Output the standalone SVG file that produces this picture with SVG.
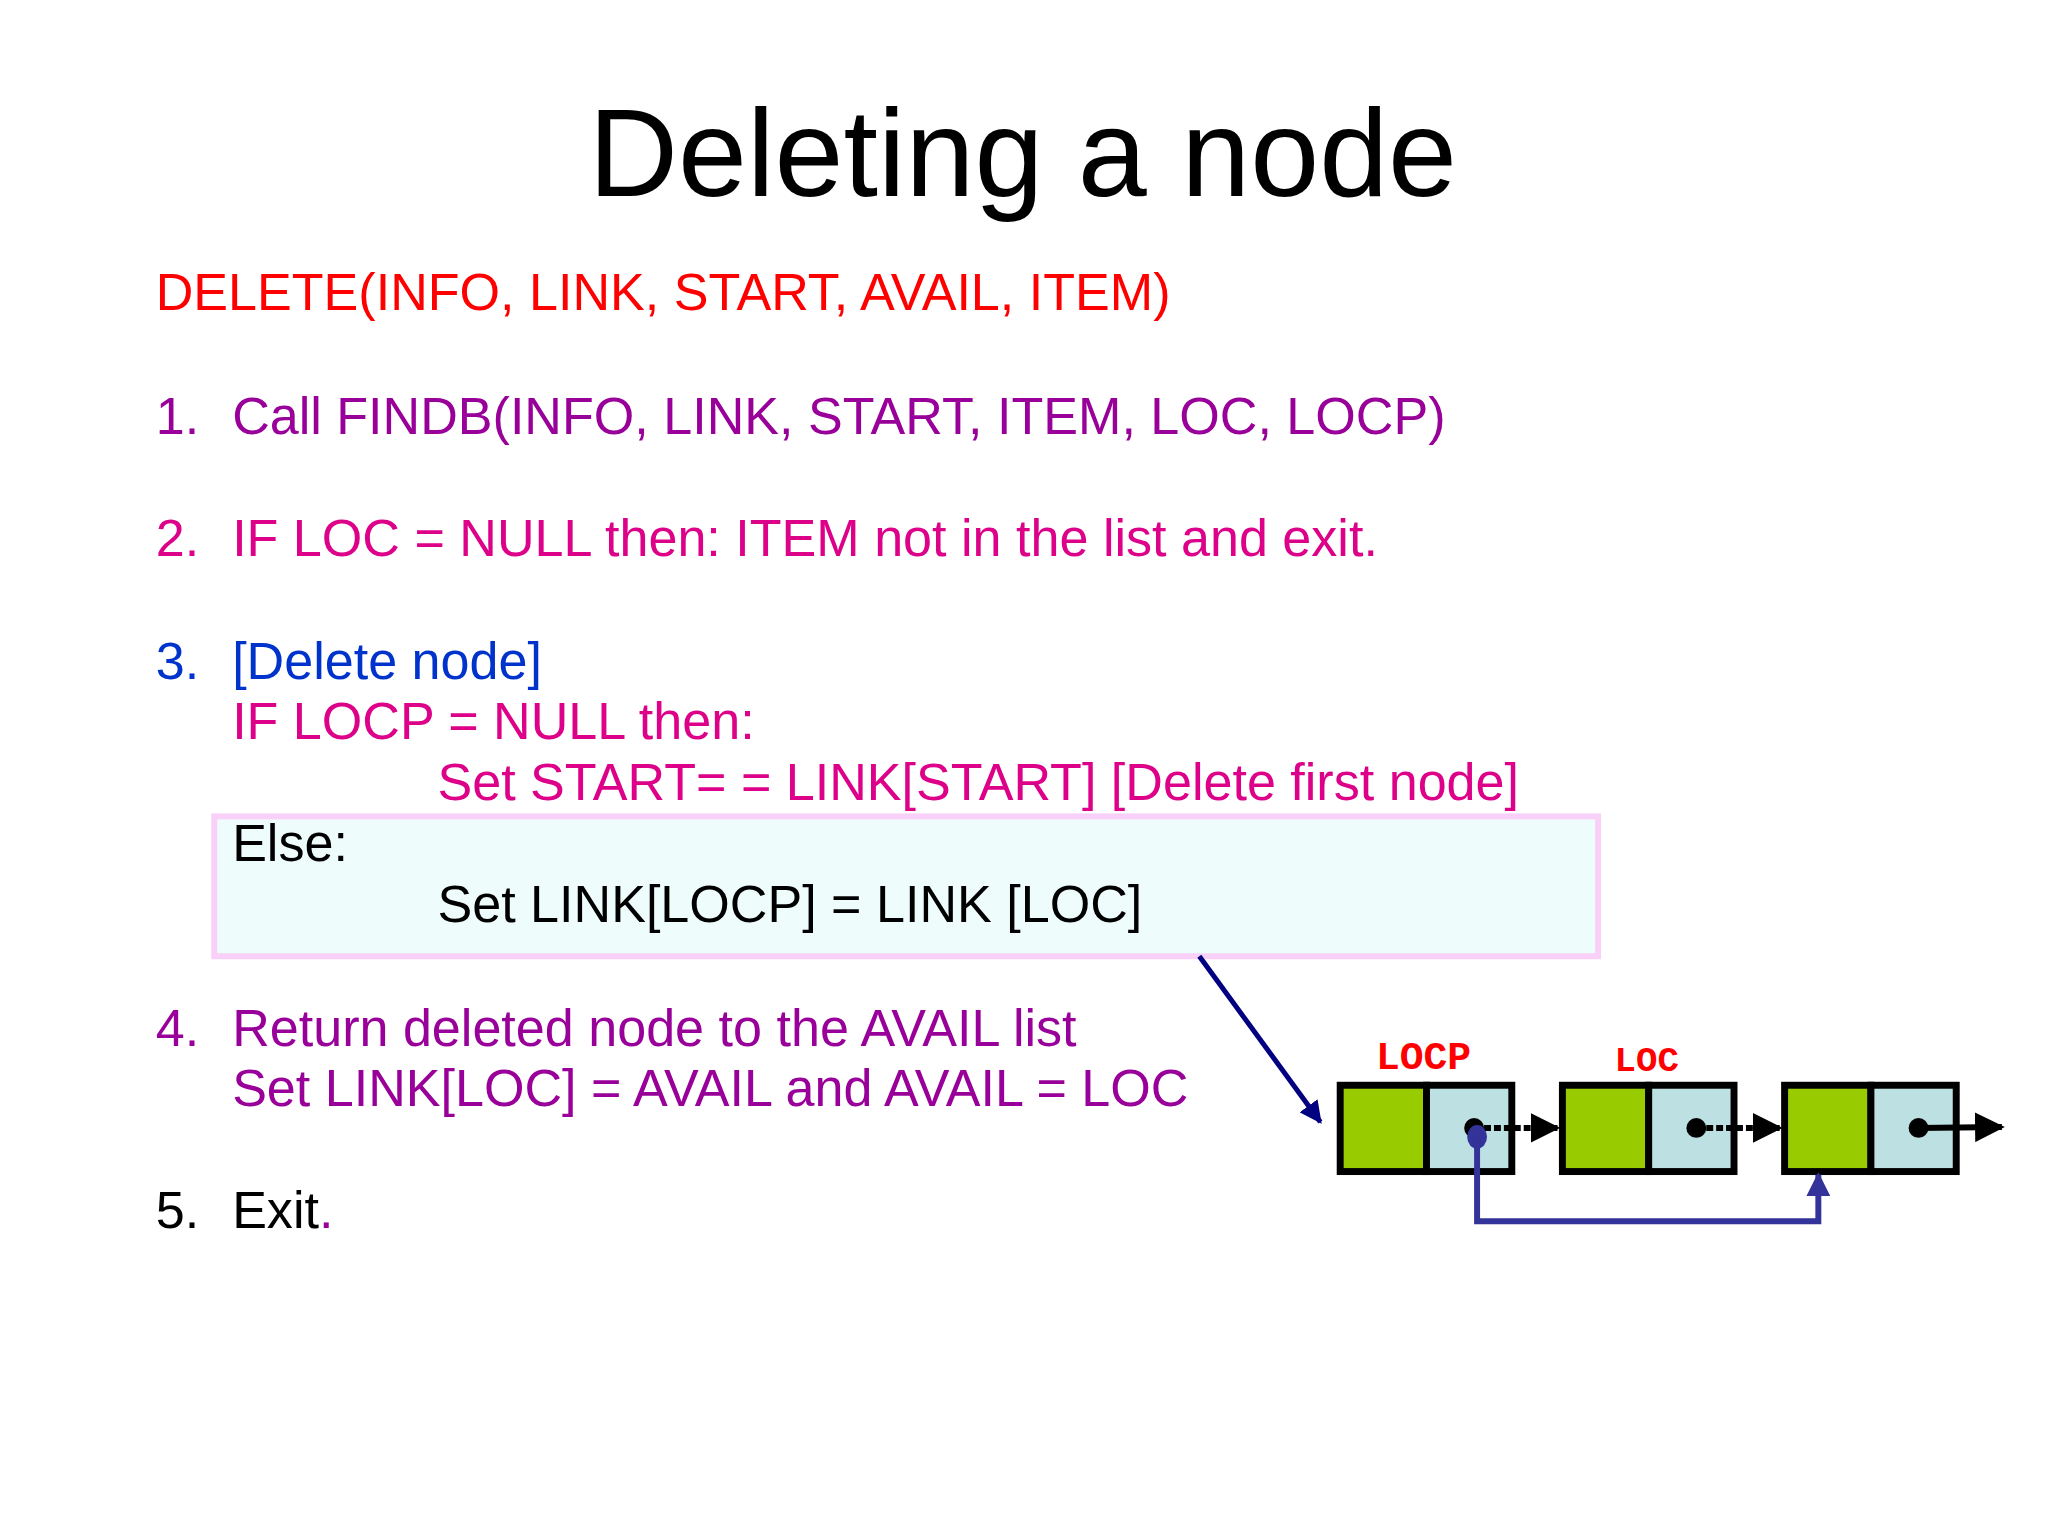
<svg xmlns="http://www.w3.org/2000/svg" width="2048" height="1536" viewBox="0 0 2048 1536">
<style>
text{font-family:"Liberation Sans",Arial,sans-serif;font-size:52.5px}
.red{fill:#ff0000}.pur{fill:#990099}.mag{fill:#dd0088}.blu{fill:#0033cc}.blk{fill:#000}
.lbl{font-family:"Liberation Mono","Courier New",monospace;font-weight:bold;fill:#ff0000}
.g{fill:#99cc00;stroke:#000;stroke-width:7}.b{fill:#bde0e3;stroke:#000;stroke-width:7}
</style>
<defs>
<marker id="ak" viewBox="0 0 10 10" refX="9" refY="5" markerWidth="5" markerHeight="5" orient="auto" markerUnits="strokeWidth"><path d="M0,0L10,5L0,10z" fill="#000"/></marker>
<marker id="an" viewBox="0 0 10 10" refX="9" refY="5" markerWidth="4.5" markerHeight="4.5" orient="auto" markerUnits="strokeWidth"><path d="M0,0L10,5L0,10z" fill="#000080"/></marker>
<marker id="ab" viewBox="0 0 10 10" refX="9" refY="5" markerWidth="4" markerHeight="4" orient="auto" markerUnits="strokeWidth"><path d="M0,0L10,5L0,10z" fill="#333399"/></marker>
</defs>
<rect width="2048" height="1536" fill="#fff"/>
<g transform="scale(0.992)">
<text x="1031" y="198" text-anchor="middle" style="font-size:125px" class="blk">Deleting a node</text>
<rect x="216" y="823" width="1395" height="141" fill="#effcfc" stroke="#f8d0f8" stroke-width="6"/>
<text x="157" y="313" class="red">DELETE(INFO, LINK, START, AVAIL, ITEM)</text>
<text x="157" y="437" class="pur">1.<tspan x="234">Call FINDB(INFO, LINK, START, ITEM, LOC, LOCP)</tspan></text>
<text x="157" y="560" class="mag">2.<tspan x="234">IF LOC = NULL then: ITEM not in the list and exit.</tspan></text>
<text x="157" y="684" class="blu">3.<tspan x="234">[Delete node]</tspan></text>
<text x="234" y="745" class="mag">IF LOCP = NULL then:</text>
<text x="441" y="806" class="mag">Set START= = LINK[START] [Delete first node]</text>
<text x="234" y="868" class="blk">Else:</text>
<text x="441" y="929" class="blk">Set LINK[LOCP] = LINK [LOC]</text>
<text x="157" y="1054" class="pur">4.<tspan x="234">Return deleted node to the AVAIL list</tspan></text>
<text x="234" y="1115" class="pur">Set LINK[LOC] = AVAIL and AVAIL = LOC</text>
<text x="157" y="1238" class="blk">5.<tspan x="234">Exit</tspan><tspan class="pur">.</tspan></text>
<g id="node1"><rect class="g" x="1351" y="1094" width="87" height="87"/><rect class="b" x="1438" y="1094" width="86" height="87"/><text class="lbl" x="1435" y="1078" text-anchor="middle" style="font-size:40px">LOCP</text></g>
<g id="node2"><rect class="g" x="1575" y="1094" width="87" height="87"/><rect class="b" x="1662" y="1094" width="86" height="87"/><text class="lbl" x="1660" y="1080" text-anchor="middle" style="font-size:36px">LOC</text></g>
<g id="node3"><rect class="g" x="1799" y="1094" width="87" height="87"/><rect class="b" x="1886" y="1094" width="86" height="87"/></g>
<g id="connectors">
<circle cx="1486" cy="1137" r="10" fill="#000"/>
<line x1="1486" y1="1137" x2="1570" y2="1137" stroke="#000" stroke-width="6" stroke-dasharray="7,3" marker-end="url(#ak)"/>
<circle cx="1710" cy="1137" r="10" fill="#000"/>
<line x1="1710" y1="1137" x2="1794" y2="1137" stroke="#000" stroke-width="6" stroke-dasharray="7,3" marker-end="url(#ak)"/>
<circle cx="1934" cy="1137" r="10" fill="#000"/>
<line x1="1934" y1="1137" x2="2018" y2="1136" stroke="#000" stroke-width="6" marker-end="url(#ak)"/>
<ellipse cx="1489" cy="1146" rx="10" ry="12" fill="#333399"/>
<polyline points="1489,1146 1489,1231 1833,1231 1833,1184" fill="none" stroke="#333399" stroke-width="6" marker-end="url(#ab)"/>
<line x1="1209" y1="964" x2="1331" y2="1131" stroke="#000080" stroke-width="5" marker-end="url(#an)"/>
</g>
</g>
</svg>
